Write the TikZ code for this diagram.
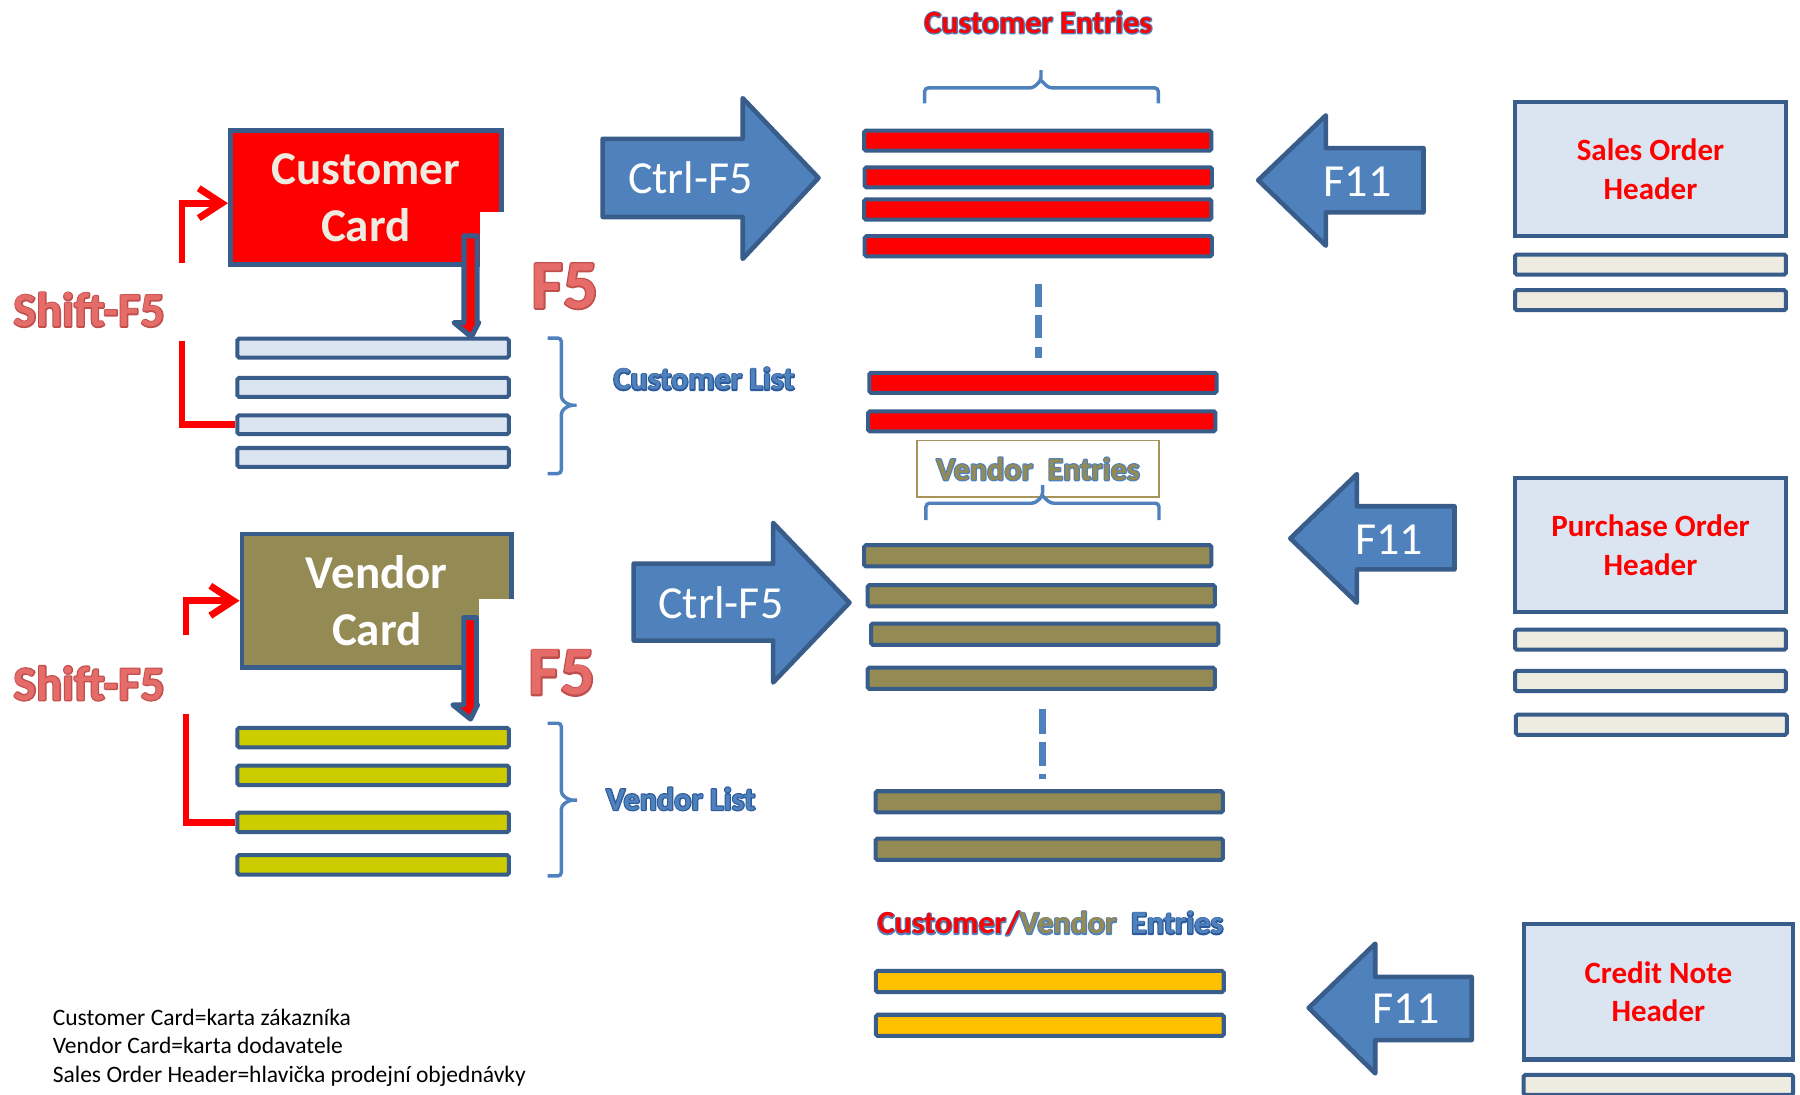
\documentclass[tikz,border=0pt]{standalone}
\usepackage{fontspec}
\setmainfont{Carlito}
\usetikzlibrary{arrows.meta}
\definecolor{dblue}{HTML}{385D8A}
\definecolor{mblue}{HTML}{4F81BD}
\definecolor{lblue}{HTML}{DBE5F1}
\definecolor{olive}{HTML}{948A54}
\definecolor{ygreen}{HTML}{CCCC00}
\definecolor{orng}{HTML}{FFC000}
\definecolor{cream}{HTML}{EEECE1}
\definecolor{keyred}{HTML}{E66C6A}
\definecolor{brdgold}{HTML}{A5955A}
% outlined text: [stroke width]{fill colour}{stroke rgb as "r g b"}{text}
% a stroke-only copy underneath, the filled text on top
\newcommand\olt[4][2]{\begingroup\setbox0=\hbox{#4}%
  \rlap{\special{pdf:literal 1 Tr #1 w 1 j #3 RG}\copy0\special{pdf:literal 0 Tr}}%
  {\color{#2}\copy0}\endgroup}
\newcommand\strk[1]{\special{pdf:literal #1 RG}}
\def\SBLUE{0.310 0.506 0.741}
\def\SDARK{0.173 0.353 0.604}
\def\SRED{0.753 0.314 0.302}
\begin{document}
\begin{tikzpicture}[x=1pt,y=-1pt,
  bar/.style={draw=dblue, line width=3.5pt, rounded corners=1.5pt, inner sep=0pt},
  cbar/.style={bar, fill=lblue, minimum width=236.5pt, minimum height=16.5pt},
  vbar/.style={bar, fill=ygreen, minimum width=236.5pt, minimum height=17pt},
  rbar/.style={bar, fill=red, minimum width=302.5pt, minimum height=17.5pt},
  obar/.style={bar, fill=olive, minimum width=302.5pt, minimum height=18.5pt},
  ybar/.style={bar, fill=orng, minimum width=303pt, minimum height=18.5pt},
  hbar/.style={bar, fill=cream, minimum width=236pt, minimum height=17.5pt},
  card/.style={draw=dblue, line width=4pt, inner sep=0pt, align=center,
    font=\bfseries\fontsize{41}{49.5}\selectfont},
  hdr/.style={draw=dblue, line width=3.8pt, fill=lblue, inner sep=0pt, align=center,
    minimum width=235.7pt, minimum height=116.7pt, text=red,
    font=\bfseries\fontsize{27}{33.5}\selectfont},
  blockarrow/.style={draw=dblue, fill=mblue, line width=4pt, line join=round},
  f5arrow/.style={draw=dblue, fill=red, line width=4.4pt, line join=round},
  keytext/.style={text=white, anchor=base, inner sep=0pt, font=\fontsize{40}{48}\selectfont},
  shiftline/.style={draw=red, line width=6pt},
  brc/.style={draw=mblue, line width=3pt, rounded corners=3pt},
  dashline/.style={draw=mblue, line width=6pt},
  title/.style={anchor=base, inner sep=0pt, font=\bfseries\fontsize{28}{34}\selectfont},
  keylbl/.style={anchor=base, inner sep=0pt},
  legend/.style={anchor=base west, inner sep=0pt, font=\fontsize{20.5}{25}\selectfont}
]
\fill[white] (0,0) rectangle (1568,953);
\useasboundingbox (0,0) rectangle (1568,953);

% ---------- customer list bars ----------
\node[cbar] (cl1) at (325,303.3) {};
\node[cbar] (cl2) at (325,337.5) {};
\node[cbar] (cl3) at (325,370) {};
\node[cbar] (cl4) at (325,398.5) {};
% ---------- vendor list bars ----------
\node[vbar] (vl1) at (325,642.5) {};
\node[vbar] (vl2) at (325,675.4) {};
\node[vbar] (vl3) at (325,716.4) {};
\node[vbar] (vl4) at (325,753.4) {};

% ---------- cards ----------
\node[card, fill=red, text=cream, minimum width=236.2pt, minimum height=116.5pt] (ccard) at (318.7,172) {Customer\\Card};
\fill[white] (418.5,184.4) rectangle (443,237);
\node[card, fill=olive, text=white, minimum width=235.1pt, minimum height=116.6pt] (vcard) at (328.25,523.3) {Vendor\\Card};
\fill[white] (417.2,521.8) rectangle (452,588);

% ---------- F5 arrows ----------
\draw[f5arrow] (404.2,205.5) -- (415.7,205.5) -- (415.7,281) -- (417,281) -- (410.6,293.5) -- (395.5,281) -- (404.2,281) -- cycle;
\draw[f5arrow] (404,538) -- (415,538) -- (415,614) -- (416,614) -- (409.9,626.4) -- (394.5,614) -- (404,614) -- cycle;
\node[keylbl, font=\bfseries\fontsize{60}{70}\selectfont] (f5a) at (492,268.6) {\olt[2.6]{keyred}{\SRED}{F5}};
\node[keylbl, font=\bfseries\fontsize{60}{70}\selectfont] (f5b) at (489.4,605.4) {\olt[2.6]{keyred}{\SRED}{F5}};

% ---------- Shift-F5 ----------
\node[keylbl, font=\bfseries\fontsize{42}{50}\selectfont] (sh1) at (77.7,284.5) {\olt[2.2]{keyred}{\SRED}{Shift-F5}};
\node[keylbl, font=\bfseries\fontsize{42}{50}\selectfont] (sh2) at (77.7,609.8) {\olt[2.2]{keyred}{\SRED}{Shift-F5}};
\coordinate (sA) at (158.5,229);
\coordinate (sB) at (158.5,297);
\coordinate (vA) at (162,553);
\coordinate (vB) at (162,622);
\draw[shiftline, -{Straight Barb[length=20pt,width=26pt]}] (sA) |- ([yshift=-5pt]ccard.west);
\draw[shiftline] (cl3.west) -| (sB);
\draw[shiftline, -{Straight Barb[length=20pt,width=26pt]}] (vA) |- (vcard.west);
\draw[shiftline] (vl3.west) -| (vB);

% ---------- list braces and titles ----------
\draw[brc] (477,294.5) -| (489,348) -- (496,353) -- (504,353) -- (496,353) -- (489,358) |- (477,412.5);
\draw[brc] (477,630) -| (489,692) -- (496,697) -- (504.5,697) -- (496,697) -- (489,702) |- (477,763);
\node[title] (cltitle) at (613.3,339.7) {\olt{mblue}{\SDARK}{Customer List}};
\node[title] (vltitle) at (593,705.6) {\olt{mblue}{\SDARK}{Vendor List}};

% ---------- Ctrl-F5 arrows ----------
\draw[blockarrow] (525,121) -- (647,121) -- (647,85.5) -- (713,155) -- (647,225.5) -- (647,189) -- (525,189) -- cycle;
\node[keytext] (ctrl1) at (601.5,168.4) {Ctrl-F5};
\draw[blockarrow] (552,491) -- (673.5,491) -- (673.5,455.5) -- (740,525) -- (673.5,594.5) -- (673.5,558) -- (552,558) -- cycle;
\node[keytext] (ctrl2) at (628,539) {Ctrl-F5};

% ---------- customer entries ----------
\node[title] (cetitle) at (904.5,29) {\olt{red}{\SBLUE}{Customer Entries}};
\draw[brc] (805.5,90) |- (900,76.6) -- (906.8,70) -- (906.8,61);
\draw[brc] (1009,90) |- (913.6,76.6) -- (906.8,70);
\node[rbar] (ce1) at (904,122.5) {};
\node[rbar] (ce2) at (904.5,154.5) {};
\node[rbar] (ce3) at (904,182.5) {};
\node[rbar] (ce4) at (904.5,214.5) {};
\draw[dashline, dash pattern=on 20pt off 7.5pt] (905,247) -- (905,312);
\node[rbar] (ce5) at (908.5,333.5) {};
\node[rbar] (ce6) at (907.5,367) {};

% ---------- vendor entries ----------
\node[draw=brdgold, line width=1.5pt, minimum width=211pt, minimum height=49.5pt, inner sep=0pt,
  font=\bfseries\fontsize{28}{34}\selectfont] (vebox) at (904.25,408.5) {\olt{olive}{\SBLUE}{Vendor\ \ Entries}};
\draw[brc] (806.6,453) |- (901.5,438.4) -- (908.2,432) -- (908.2,422.5);
\draw[brc] (1009.6,453) |- (915,438.4) -- (908.2,432);
\node[obar] (ve1) at (904,484.2) {};
\node[obar] (ve2) at (907,519) {};
\node[obar] (ve3) at (910,552.4) {};
\node[obar] (ve4) at (907,590.9) {};
\draw[dashline, dash pattern=on 21pt off 7.3pt] (908,618) -- (908,679);
\node[obar] (ve5) at (914,698.5) {};
\node[obar] (ve6) at (914,739.8) {};

% ---------- customer/vendor entries ----------
\node[title] (cvtitle) at (915,813.6) {%
  \rlap{\special{pdf:literal 1 Tr 2 w 1 j}\strk{\SBLUE}Customer/\strk{\SBLUE}Vendor\ \ \strk{\SDARK}Entries\special{pdf:literal 0 Tr}}%
  {\color{red}Customer/}{\color{olive}Vendor}\ \ {\color{mblue}Entries}};
\node[ybar] (cv1) at (914.5,855) {};
\node[ybar] (cv2) at (914.5,893.2) {};

% ---------- F11 arrows ----------
\draw[blockarrow] (1096,157) -- (1155,100.5) -- (1155,129) -- (1240,129) -- (1240,185) -- (1155,185) -- (1155,214) -- cycle;
\node[keytext] (f11a) at (1182.5,171) {F11};
\draw[blockarrow] (1124,469) -- (1182,413) -- (1182,441) -- (1267,441) -- (1267,496) -- (1182,496) -- (1182,525) -- cycle;
\node[keytext] (f11b) at (1210,482.6) {F11};
\draw[blockarrow] (1140,878) -- (1198,822) -- (1198,851) -- (1282,851) -- (1282,906) -- (1198,906) -- (1198,935) -- cycle;
\node[keytext] (f11c) at (1225,892) {F11};

% ---------- document headers ----------
\node[hdr] (soh) at (1437.75,147.25) {Sales Order\\Header};
\node[hbar] (sb1) at (1437.75,230.5) {};
\node[hbar] (sb2) at (1437.75,261.5) {};
\node[hdr] (poh) at (1437.75,474.8) {Purchase Order\\Header};
\node[hbar] (pb1) at (1437.75,557.2) {};
\node[hbar] (pb2) at (1437.75,593.2) {};
\node[hbar] (pb3) at (1438.5,631.3) {};
\node[hdr, minimum width=234.4pt, minimum height=118pt] (cnh) at (1444.6,863.9) {Credit Note\\Header};
\node[hbar, minimum width=234.7pt] (cb1) at (1444.6,945) {};

% ---------- legend ----------
\node[legend] (lg1) at (45.8,893) {Customer Card=karta zákazníka};
\node[legend] (lg2) at (45.8,918) {Vendor Card=karta dodavatele};
\node[legend] (lg3) at (45.8,943) {Sales Order Header=hlavička prodejní objednávky};
\end{tikzpicture}
\end{document}
